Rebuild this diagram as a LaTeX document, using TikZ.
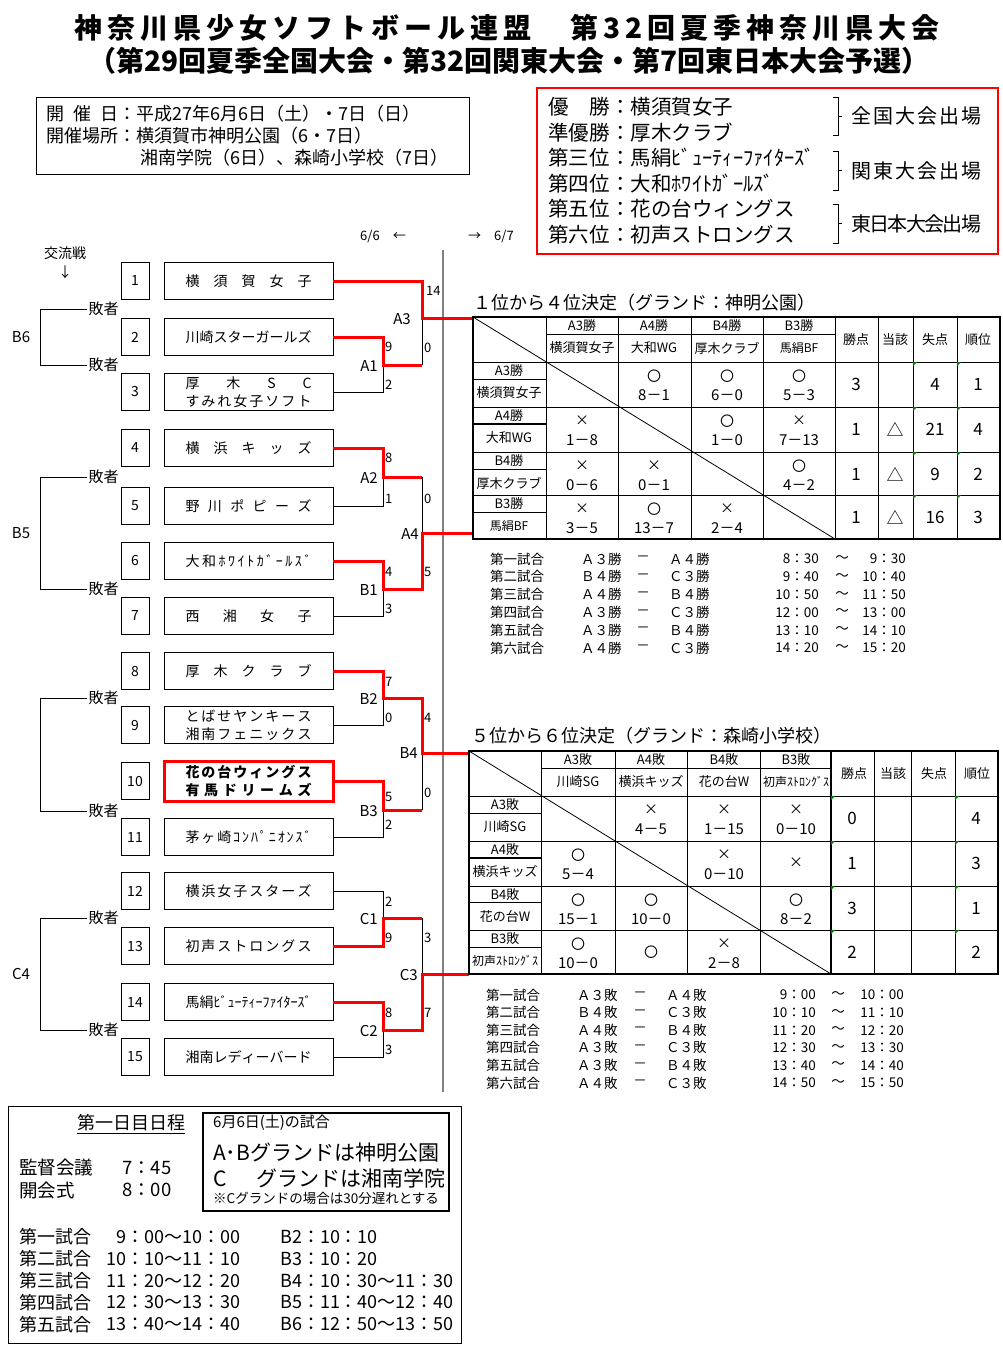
\documentclass[tikz,border=0pt]{standalone}
\usepackage{fontspec}
\setmainfont{Noto Sans CJK JP}

\newcommand\fsz[2]{\fontsize{#1}{#2}\selectfont}
\makeatletter
\newcommand\spreadto[2]{\makebox[#1][s]{\expandafter\spr@loop#2\@nil}}
\def\spr@loop#1#2\@nil{#1\if\relax\detokenize{#2}\relax\else\hskip 0pt plus 1fil minus 1fil\spr@loop#2\@nil\fi}
\makeatother

\begin{document}
\begin{tikzpicture}[x=1pt, y=-1pt,
    numbox/.style={draw, line width=0.8pt, minimum width=28pt, minimum height=37pt, inner sep=0pt, font=\fsz{14}{17}},
    teambox/.style={draw, line width=0.8pt, minimum width=169pt, minimum height=37pt, inner sep=0pt, align=center, font=\fsz{14}{18}},
    win/.style={red, line width=3pt},
    lose/.style={line width=0.8pt},
    pts/.style={font=\fsz{13}{15}, inner sep=0pt},
    matchlab/.style={font=\fsz{15}{17}, inner sep=0pt},
    loser/.style={font=\fsz{15}{17}, inner sep=1.5pt},
    hd/.style={font=\fsz{13}{15}, inner sep=0pt},
    resmk/.style={font=\fsz{14}{16}, inner sep=0pt},
    ressc/.style={font=\fsz{15}{17}, inner sep=0pt},
    tot/.style={font=\fsz{17}{19}, inner sep=0pt},
    sched/.style={font=\fsz{13.5}{16}, inner sep=0pt},
    gridline/.style={line width=0.8pt},
    tabframe/.style={line width=1.8pt},
    flag/.style={fill=green!50!black}
  ]
    \fill[white] (0,0) rectangle (1002,1347);
    \useasboundingbox (0,0) rectangle (1002,1347);

    % title
    \node (title1) at (507,28) {\fsz{28}{30}\bfseries\spreadto{865pt}{神奈川県少女ソフトボール連盟　第32回夏季神奈川県大会}};
    \node (title2) at (509,61) {\fsz{28}{30}\bfseries\spreadto{842pt}{（第29回夏季全国大会・第32回関東大会・第7回東日本大会予選）}};

    % date and place
    \draw[gridline] (36,97) rectangle (469,174);
    \node[anchor=west, inner sep=0pt, font=\fsz{18}{20}] (date) at (46,114) {\spreadto{72pt}{開催日}：平成27年6月6日（土）・7日（日）};
    \node[anchor=west, inner sep=0pt, font=\fsz{18}{20}] (place) at (46,136) {\spreadto{72pt}{開催場所}：横須賀市神明公園（6・7日）};
    \node[anchor=west, inner sep=0pt, font=\fsz{18}{20}] (place2) at (140,158) {湘南学院（6日）、森崎小学校（7日）};

    % final ranking
    \draw[red, line width=2pt] (537,88) rectangle (998,254);
    \foreach \y/\a/\b in {107/優勝/横須賀女子, 133/準優勝/厚木クラブ, 158/第三位/馬絹ﾋﾞｭｰﾃｨｰﾌｧｲﾀｰｽﾞ,
        184/第四位/大和ﾎﾜｲﾄｶﾞｰﾙｽﾞ, 209/第五位/花の台ウィングス, 235/第六位/初声ストロングス}
        \node[anchor=west, inner sep=0pt, font=\fsz{20.5}{22}] (rk\y) at (548,\y) {\spreadto{62pt}{\a}：\b};
    \foreach \a/\b/\t in {97/135/全国大会出場, 151/190/関東大会出場, 204/243/東日本大会出場} {
        \draw[gridline] (833,\a) -- (838,\a) -- (838,\b) -- (833,\b);
        \draw[gridline] (838,{(\a+\b)/2}) -- (842,{(\a+\b)/2});
        \node[anchor=west, inner sep=0pt, font=\fsz{20}{22}] (go\a) at (851,{(\a+\b)/2}) {\spreadto{130pt}{\t}};
    }

    % bracket
    \node[font=\fsz{13}{15}] (day6) at (383,236) {6/6　←};
    \node[font=\fsz{13}{15}] (day7) at (491,236) {→　6/7};
    \node[font=\fsz{14}{16}, inner sep=0pt] (koryu) at (65,253) {交流戦};
    \node[font=\fsz{14}{16}, inner sep=0pt] (koryuarr) at (65,272) {↓};
    \draw[gray, line width=1.5pt] (443,250) -- (443,1092);

    \foreach \i/\y in {1/281,2/337,3/392,4/448,5/506,6/561,7/616,8/671,9/725,10/781,11/837,12/891,13/946,14/1002,15/1057}
        \node[numbox] (n\i) at (135,\y) {\i};

    \node[teambox] (t1) at (248.5,281) {\spreadto{126pt}{横須賀女子}};
    \node[teambox] (t2) at (248.5,337) {\spreadto{126pt}{川崎スターガールズ}};
    \node[teambox] (t3) at (248.5,392) {\spreadto{126pt}{厚木SC}\\\spreadto{126pt}{すみれ女子ソフト}};
    \node[teambox] (t4) at (248.5,448) {\spreadto{126pt}{横浜キッズ}};
    \node[teambox] (t5) at (248.5,506) {\spreadto{126pt}{野川ポピーズ}};
    \node[teambox] (t6) at (248.5,561) {\spreadto{126pt}{大和ﾎﾜｲﾄｶﾞｰﾙｽﾞ}};
    \node[teambox] (t7) at (248.5,616) {\spreadto{126pt}{西湘女子}};
    \node[teambox] (t8) at (248.5,671) {\spreadto{126pt}{厚木クラブ}};
    \node[teambox] (t9) at (248.5,725) {\spreadto{126pt}{とばせヤンキース}\\\spreadto{126pt}{湘南フェニックス}};
    \node[teambox, draw=red, line width=3pt, minimum height=40pt, font=\fsz{14}{18}\bfseries] (t10) at (248.5,781)
        {\spreadto{126pt}{花の台ウィングス}\\\spreadto{126pt}{有馬ドリームズ}};
    \node[teambox] (t11) at (248.5,837) {\spreadto{126pt}{茅ヶ崎ｺﾝﾊﾟﾆｵﾝｽﾞ}};
    \node[teambox] (t12) at (248.5,891) {\spreadto{126pt}{横浜女子スターズ}};
    \node[teambox] (t13) at (248.5,946) {\spreadto{126pt}{初声ストロングス}};
    \node[teambox] (t14) at (248.5,1002) {\spreadto{126pt}{馬絹ﾋﾞｭｰﾃｨｰﾌｧｲﾀｰｽﾞ}};
    \node[teambox] (t15) at (248.5,1057) {\spreadto{126pt}{湘南レディーバード}};

    % losers' games
    \foreach \a/\b/\lab/\k in {309/365/B6/1, 477/589/B5/2, 698/811/{}/3, 918/1030/C4/4} {
        \node[loser] (la\k) at (103.5,\a) {敗者};
        \node[loser] (lb\k) at (103.5,\b) {敗者};
        \draw[lose] (la\k.west) -- ++(-46,0) |- (lb\k.west);
        \node[matchlab] (grp\k) at (21,{(\a+\b)/2}) {\lab};
    }

    % junctions
    \coordinate (A1) at (383,365);
    \coordinate (A2) at (383,477);
    \coordinate (B1) at (383,589);
    \coordinate (B2) at (383,698);
    \coordinate (B3) at (383,810);
    \coordinate (C1) at (383,918);
    \coordinate (C2) at (383,1030);
    \coordinate (A3) at (422,318);
    \coordinate (A4) at (422,533);
    \coordinate (B4) at (422,753);
    \coordinate (C3) at (422,974);
    \coordinate (tab1) at (473,317);
    \coordinate (tab2) at (469,751);

    \draw[lose] (t3.east) -| (A1);
    \draw[lose] (t5.east) -| (A2);
    \draw[lose] (t7.east) -| (B1);
    \draw[lose] (t9.east) -| (B2);
    \draw[lose] (t11.east) -| (B3);
    \draw[lose] (t12.east) -| (C1);
    \draw[lose] (t15.east) -| (C2);
    \draw[lose] (A1 -| A3) -- (A3);
    \draw[lose] (A2 -| A4) -- (A4);
    \draw[lose] (B3 -| B4) -- (B4);
    \draw[lose] (C1 -| C3) -- (C3);

    \draw[win] (t1.east) -| (A3) -- (A3 -| tab1);
    \draw[win] (t2.east) -| (A1) -- (A1 -| A3);
    \draw[win] (t4.east) -| (A2) -- (A2 -| A4);
    \draw[win] (t6.east) -| (B1) -- (B1 -| A4) -- (A4) -- (A4 -| tab1);
    \draw[win] (t8.east) -| (B2) -- (B2 -| B4) -- (B4) -- (B4 -| tab2);
    \draw[win] (t10.east) -| (B3) -- (B3 -| B4);
    \draw[win] (t13.east) -| (C1) -- (C1 -| C3);
    \draw[win] (t14.east) -| (C2) -- (C2 -| C3) -- (C3) -- (C3 -| tab2);

    \foreach \j/\x/\y in {A1/378/366, A2/378/478, B1/378/590, B2/378/699, B3/378/811, C1/378/919, C2/378/1031,
        A3/411/319, A4/419/534, B4/418/753, C3/418/975}
        \node[matchlab, anchor=east] (l\j) at (\x,\y) {\j};
    \foreach \x/\y/\s in {426/291/14, 424/348/0, 385/347/9, 385/385/2, 385/458/8, 385/499/1, 424/499/0, 424/572/5,
        385/572/4, 385/609/3, 385/682/7, 385/718/0, 424/718/4, 424/793/0, 385/797/5, 385/825/2,
        385/902/2, 385/938/9, 424/938/3, 424/1013/7, 385/1013/8, 385/1050/3}
        \node[pts, anchor=west] (p\x-\y) at (\x,\y) {\s};

    % table 1
    \node[anchor=west, inner sep=0pt, font=\fsz{18}{20}] (tt1) at (473,303) {１位から４位決定（グランド：神明公園）};
    \foreach \x in {546,618,691,763,835,878,913,957} \draw[gridline] (\x,317) -- (\x,539);
    \foreach \y in {362,407,452,495} \draw[gridline] (473,\y) -- (1000,\y);
    \draw[gridline] (546,334) -- (835,334);
    \foreach \y in {379,469,512} \draw[gridline] (473,\y) -- (546,\y);
    \draw[line width=2pt] (473,424) -- (546,424);
    \draw[gridline] (tab1) -- (835,539);
    \draw[tabframe] (tab1) rectangle (1000,539);
    \foreach \x in {913,957} \foreach \y in {362,407,452,495} \fill[flag] (\x,\y) -- ++(4,0) -- ++(-4,4) -- cycle;

    \foreach \x/\a/\b in {582/A3勝/横須賀女子, 654/A4勝/大和WG, 727/B4勝/厚木クラブ, 799/B3勝/{\fsz{12}{14}馬絹BF}} {
        \node[hd] (h1a\x) at (\x,326) {\a};
        \node[hd] (h1b\x) at (\x,348) {\b};
    }
    \foreach \x/\a in {856/勝点, 895/当該, 935/失点, 978/順位} \node[hd] (h1c\x) at (\x,340) {\a};
    \foreach \y/\a/\b in {362/A3勝/横須賀女子, 407/A4勝/大和WG, 452/B4勝/厚木クラブ, 495/B3勝/{\fsz{12}{14}馬絹BF}} {
        \node[hd] (r1a\y) at (509,\y+9) {\a};
        \node[hd] (r1b\y) at (509,\y+31) {\b};
    }
    \foreach \x/\y/\m/\s in {654/362/〇/8－1, 727/362/〇/6－0, 799/362/〇/5－3,
        582/407/×/1－8, 727/407/〇/1－0, 799/407/×/7－13,
        582/452/×/0－6, 654/452/×/0－1, 799/452/〇/4－2,
        582/495/×/3－5, 654/495/〇/13－7, 727/495/×/2－4} {
        \node[resmk] (m1-\x-\y) at (\x,\y+14) {\m};
        \node[ressc] (s1-\x-\y) at (\x,\y+33) {\s};
    }
    \foreach \y/\p/\t/\l/\k in {384/3/{}/4/1, 429/1/△/21/4, 474/1/△/9/2, 517/1/△/16/3} {
        \node[tot] (w1-\y) at (856,\y) {\p};
        \node[tot] (u1-\y) at (895,\y) {\t};
        \node[tot] (f1-\y) at (935,\y) {\l};
        \node[tot] (o1-\y) at (978,\y) {\k};
    }
    \foreach \n/\p/\q/\s/\e [count=\r from 0] in {第一試合/Ａ３勝/Ａ４勝/8：30/9：30, 第二試合/Ｂ４勝/Ｃ３勝/9：40/10：40,
        第三試合/Ａ４勝/Ｂ４勝/10：50/11：50, 第四試合/Ａ３勝/Ｃ３勝/12：00/13：00,
        第五試合/Ａ３勝/Ｂ４勝/13：10/14：10, 第六試合/Ａ４勝/Ｃ３勝/14：20/15：20} {
        \node[sched, anchor=west] (g1a\r) at (490,559+17.8*\r) {\n};
        \node[sched, anchor=west] (g1b\r) at (581,559+17.8*\r) {\p};
        \node[sched] (g1c\r) at (643,559+17.8*\r) {－};
        \node[sched, anchor=west] (g1d\r) at (669,559+17.8*\r) {\q};
        \node[sched, anchor=east] (g1e\r) at (819,559+17.8*\r) {\s};
        \node[sched] (g1f\r) at (842,559+17.8*\r) {～};
        \node[sched, anchor=east] (g1g\r) at (906,559+17.8*\r) {\e};
    }

    % table 2
    \node[anchor=west, inner sep=0pt, font=\fsz{18}{20}] (tt2) at (471,736) {５位から６位決定（グランド：森崎小学校）};
    \foreach \x in {541,615,687,760,874,911,955} \draw[gridline] (\x,751) -- (\x,974);
    \draw[tabframe] (831,751) -- (831,974);
    \foreach \y in {796,841,886,930} \draw[gridline] (469,\y) -- (998,\y);
    \draw[gridline] (541,768) -- (831,768);
    \foreach \y in {813,902,947} \draw[gridline] (469,\y) -- (541,\y);
    \draw[line width=2pt] (469,858) -- (541,858);
    \draw[gridline] (tab2) -- (831,974);
    \draw[tabframe] (tab2) rectangle (998,974);
    \foreach \x in {831,955} \foreach \y in {796,841,886,930} \fill[flag] (\x,\y) -- ++(4,0) -- ++(-4,4) -- cycle;

    \foreach \x/\a/\b in {578/A3敗/川崎SG, 651/A4敗/横浜キッズ, 724/B4敗/花の台W, 796/B3敗/{\fsz{12}{14}初声ｽﾄﾛﾝｸﾞｽ}} {
        \node[hd] (h2a\x) at (\x,760) {\a};
        \node[hd] (h2b\x) at (\x,782) {\b};
    }
    \foreach \x/\a in {854/勝点, 893/当該, 934/失点, 977/順位} \node[hd] (h2c\x) at (\x,774) {\a};
    \foreach \y/\a/\b in {796/A3敗/川崎SG, 841/A4敗/横浜キッズ, 886/B4敗/花の台W, 930/B3敗/{\fsz{12}{14}初声ｽﾄﾛﾝｸﾞｽ}} {
        \node[hd] (r2a\y) at (505,\y+9) {\a};
        \node[hd] (r2b\y) at (505,\y+31) {\b};
    }
    \foreach \x/\y/\m/\s in {651/796/×/4－5, 724/796/×/1－15, 796/796/×/0－10,
        578/841/〇/5－4, 724/841/×/0－10,
        578/886/〇/15－1, 651/886/〇/10－0, 796/886/〇/8－2,
        578/930/〇/10－0, 724/930/×/2－8} {
        \node[resmk] (m2-\x-\y) at (\x,\y+14) {\m};
        \node[ressc] (s2-\x-\y) at (\x,\y+33) {\s};
    }
    \node[resmk] (m2-single1) at (796,863) {×};
    \node[resmk] (m2-single2) at (651,952) {〇};
    \foreach \y/\p/\k in {818/0/4, 863/1/3, 908/3/1, 952/2/2} {
        \node[tot] (w2-\y) at (852,\y) {\p};
        \node[tot] (o2-\y) at (976,\y) {\k};
    }
    \foreach \n/\p/\q/\s/\e [count=\r from 0] in {第一試合/Ａ３敗/Ａ４敗/9：00/10：00, 第二試合/Ｂ４敗/Ｃ３敗/10：10/11：10,
        第三試合/Ａ４敗/Ｂ４敗/11：20/12：20, 第四試合/Ａ３敗/Ｃ３敗/12：30/13：30,
        第五試合/Ａ３敗/Ｂ４敗/13：40/14：40, 第六試合/Ａ４敗/Ｃ３敗/14：50/15：50} {
        \node[sched, anchor=west] (g2a\r) at (486,995+17.6*\r) {\n};
        \node[sched, anchor=west] (g2b\r) at (577,995+17.6*\r) {\p};
        \node[sched] (g2c\r) at (640,995+17.6*\r) {－};
        \node[sched, anchor=west] (g2d\r) at (666,995+17.6*\r) {\q};
        \node[sched, anchor=east] (g2e\r) at (816,995+17.6*\r) {\s};
        \node[sched] (g2f\r) at (838,995+17.6*\r) {～};
        \node[sched, anchor=east] (g2g\r) at (904,995+17.6*\r) {\e};
    }

    % first day schedule
    \draw[gridline] (8,1106) rectangle (461,1343);
    \draw[line width=2pt] (203,1113) rectangle (449,1211);
    \node[inner sep=0pt, font=\fsz{18}{20}] (day1) at (131,1124) {\underline{第一日目日程}};
    \node[anchor=west, inner sep=0pt, font=\fsz{18.5}{20}] (kantoku) at (19,1168) {監督会議};
    \node[anchor=west, inner sep=0pt, font=\fsz{18.5}{20}] (kantokut) at (122,1168) {7：45};
    \node[anchor=west, inner sep=0pt, font=\fsz{18.5}{20}] (kaikai) at (19,1190) {開会式};
    \node[anchor=west, inner sep=0pt, font=\fsz{18.5}{20}] (kaikait) at (122,1190) {8：00};
    \node[anchor=west, inner sep=0pt, font=\fsz{15}{17}] (note1) at (213,1123) {6月6日(土)の試合};
    \node[anchor=west, inner sep=0pt, font=\fsz{21}{23}] (note2) at (213,1153) {A･Bグランドは神明公園};
    \node[anchor=west, inner sep=0pt, font=\fsz{21}{23}] (note3) at (213,1178) {C\hspace{30pt}グランドは湘南学院};
    \node[anchor=west, inner sep=0pt, font=\fsz{13.5}{15}] (note4) at (213,1198) {※Cグランドの場合は30分遅れとする};
    \foreach \n/\t/\b [count=\r from 0] in {第一試合/9：00～10：00/B2：10：10, 第二試合/10：10～11：10/B3：10：20,
        第三試合/11：20～12：20/B4：10：30～11：30, 第四試合/12：30～13：30/B5：11：40～12：40,
        第五試合/13：40～14：40/B6：12：50～13：50} {
        \node[anchor=west, inner sep=0pt, font=\fsz{18}{20}] (ds\r) at (19,1237+21.8*\r) {\n};
        \node[anchor=east, inner sep=0pt, font=\fsz{18}{20}] (dt\r) at (241,1237+21.8*\r) {\t};
        \node[anchor=west, inner sep=0pt, font=\fsz{18}{20}] (db\r) at (280,1237+21.8*\r) {\b};
    }
\end{tikzpicture}
\end{document}
